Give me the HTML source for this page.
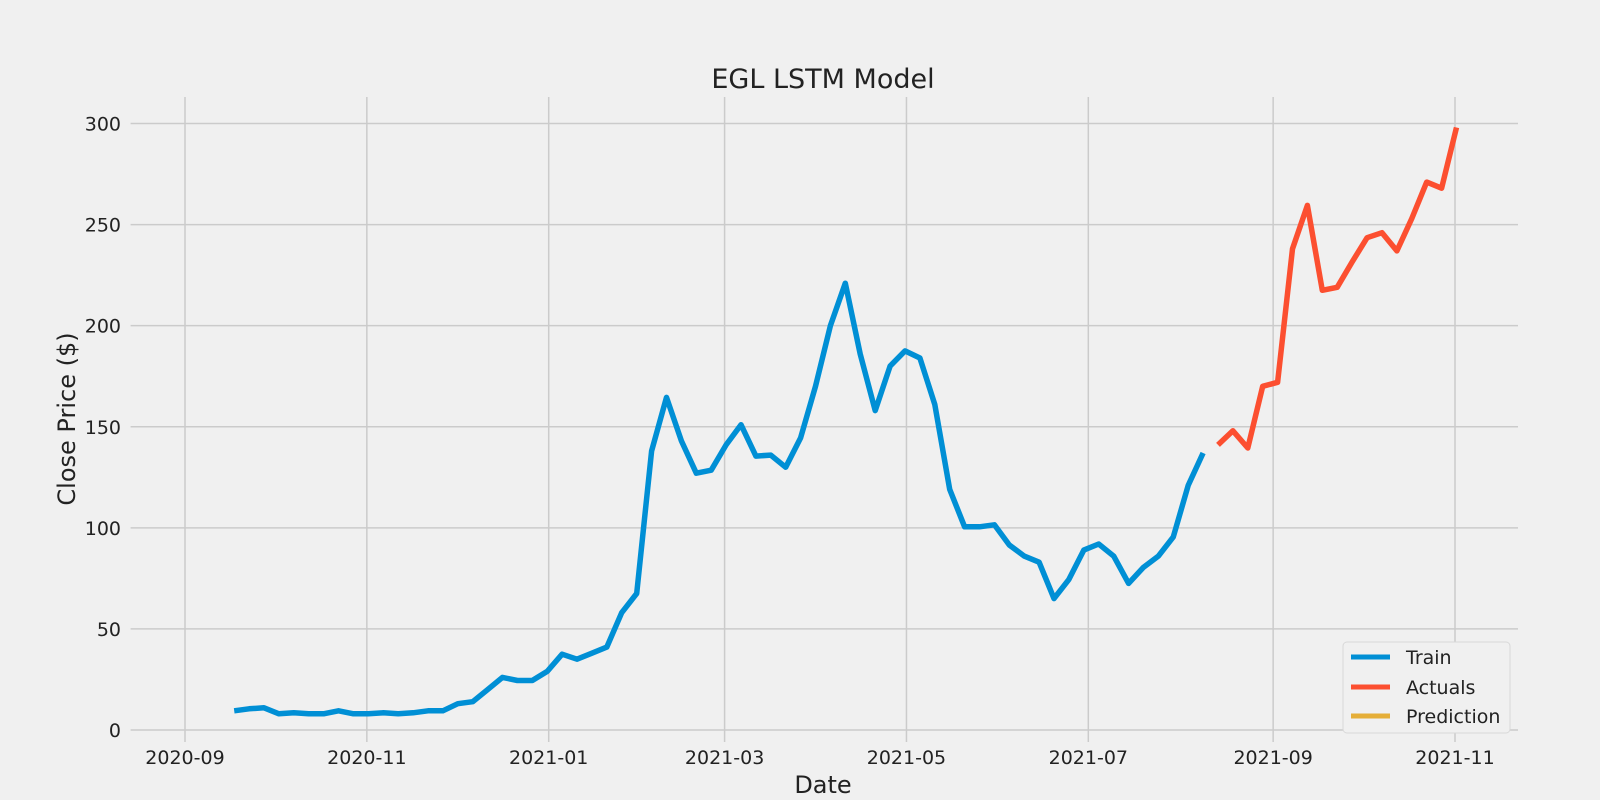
<!DOCTYPE html>
<html><head><meta charset="utf-8"><style>
body{margin:0;background:#f0f0f0;}
svg{display:block;font-family:"DejaVu Sans","Liberation Sans",sans-serif;}
</style></head><body>
<svg id="chart" width="1600" height="800" viewBox="0 0 1600 800">
<rect width="1600" height="800" fill="#f0f0f0"/>
<g id="grid"></g>
<g id="ticks"></g>
<g id="lines"></g>
<text x="823" y="88" font-size="27" text-anchor="middle" fill="#222">EGL LSTM Model</text>
<text x="823" y="793" font-size="24" text-anchor="middle" fill="#222">Date</text>
<text transform="translate(75,419) rotate(-90)" font-size="24" text-anchor="middle" fill="#222">Close Price ($)</text>
<g>
<rect x="1343" y="642" width="167" height="91" rx="4" fill="#f0f0f0" stroke="#d8d8d8"/>
<line x1="1351" y1="657" x2="1390" y2="657" stroke="#008fd5" stroke-width="5"/>
<text x="1406" y="664" font-size="19" fill="#222">Train</text>
<line x1="1351" y1="687" x2="1390" y2="687" stroke="#fc4f30" stroke-width="5"/>
<text x="1406" y="694" font-size="19" fill="#222">Actuals</text>
<line x1="1351" y1="716" x2="1390" y2="716" stroke="#e5ae38" stroke-width="5"/>
<text x="1406" y="723" font-size="19" fill="#222">Prediction</text>
</g>
</svg>
<script>
const trainValues=[9.5,10.5,11,8,8.5,8,8,9.5,8,8,8.5,8,8.5,9.5,9.5,13,14,20,26,24.5,24.5,29,37.5,35,38,41,58,67.5,138,164.5,143,127,128.5,141,151,135.5,136,130,144.5,170,200,221,186,158,180,187.5,184,161,119,100.5,100.5,101.5,91.5,86,83,65,74.5,89,92,86,72.5,80.5,86,95.5,121,137];
const actualValues=[141,148,139.5,170,172,238,259.5,217.5,219,231.5,243.5,246,237,253,271,268,298];
const yTicks=[0,50,100,150,200,250,300];
const xTickLabels=["2020-09","2020-11","2021-01","2021-03","2021-05","2021-07","2021-09","2021-11"];
const xTickDays=[0,61,122,181,242,303,365,426];
const startDay=16.5, stepDays=5;

const X0=185, PXDAY=1270/426, Y0=730, PXV=(730-123.5)/300;
const L=130.6,R=1518,T=97,B=742;
const xs=d=>X0+d*PXDAY, ys=v=>Y0-v*PXV;
const NS="http://www.w3.org/2000/svg";
function mk(tag,attrs,parent){const e=document.createElementNS(NS,tag);for(const k in attrs)e.setAttribute(k,attrs[k]);parent.appendChild(e);return e;}
const grid=document.getElementById('grid'),ticks=document.getElementById('ticks'),lines=document.getElementById('lines');
yTicks.forEach(v=>{
 const l=mk('line',{x1:L,x2:R,y1:ys(v),y2:ys(v),stroke:'#cbcbcb','stroke-width':1.5},grid);
 
 
 const t=mk('text',{x:121,y:ys(v)+7,'font-size':19,'text-anchor':'end',fill:'#222'},ticks);
 t.textContent=v;
 
 
});
xTickDays.forEach((d,i)=>{
 const l=mk('line',{x1:xs(d),x2:xs(d),y1:T,y2:B,stroke:'#cbcbcb','stroke-width':1.5},grid);
 
 
 const t=mk('text',{x:xs(d),y:764,'font-size':19,'text-anchor':'middle',fill:'#222'},ticks);
 t.textContent=xTickLabels[i];
 
 
});
function path(vals,offset,color,name){
 const d=vals.map((v,i)=>(i?'L':'M')+xs(startDay+(i+offset)*stepDays).toFixed(1)+','+ys(v).toFixed(1)).join('');
 const p=mk('path',{d:d,fill:'none',stroke:color,'stroke-width':5.5,'stroke-linejoin':'round'},lines);
 
 
}
path(trainValues,0,'#008fd5','train-line');
path(actualValues,trainValues.length,'#fc4f30','actuals-line');
</script>
</body></html>
